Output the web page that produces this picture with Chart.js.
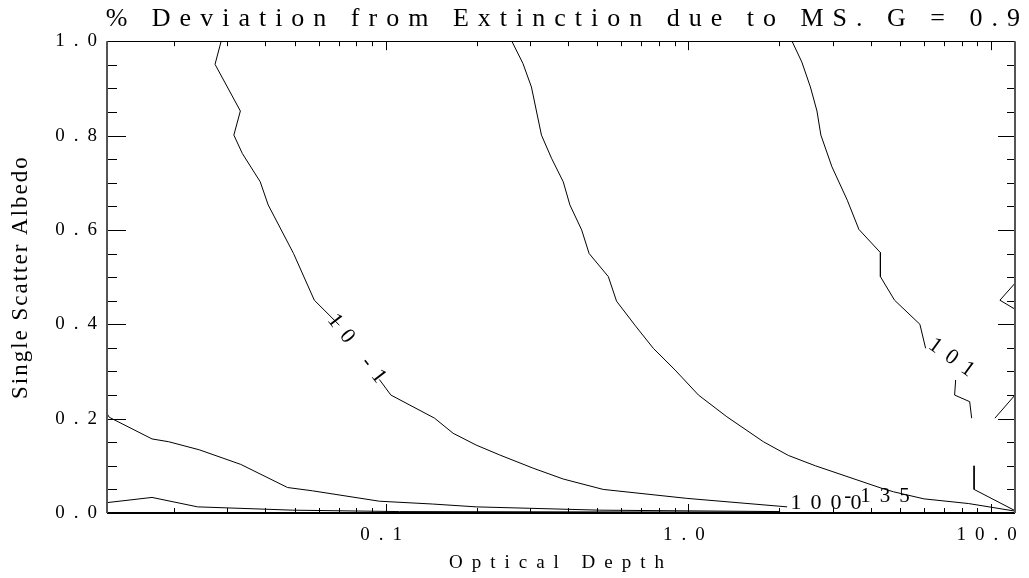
<!DOCTYPE html>
<html>
<head>
<meta charset="utf-8">
<title>% Deviation from Extinction due to MS</title>
<script src="https://cdn.jsdelivr.net/npm/chart.js@4.4.1/dist/chart.umd.min.js"></script>
<style>
  html, body { margin: 0; padding: 0; background: #fff; }
  #wrap { width: 1029px; height: 578px; }
</style>
</head>
<body>
<div id="wrap"><canvas id="contour"></canvas></div>
<script>
// axis ticks
const X_TICK_VALUES = [0.1, 1, 10];
const X_TICK_LABELS = ['0.1', '1.0', '10.0'];
const X_MINOR_TICKS = [0.02, 0.03, 0.04, 0.05, 0.06, 0.07, 0.08, 0.09,
                       0.2, 0.3, 0.4, 0.5, 0.6, 0.7, 0.8, 0.9,
                       2, 3, 4, 5, 6, 7, 8, 9];
const Y_TICK_VALUES = [0, 0.2, 0.4, 0.6, 0.8, 1.0];
const Y_MINOR_TICKS = [0.05, 0.1, 0.15, 0.25, 0.3, 0.35, 0.45, 0.5, 0.55,
                       0.65, 0.7, 0.75, 0.85, 0.9, 0.95];

// contour paths: optical depth (tau) vs single scatter albedo, null = break in the line
const contourA_tau = [0.0286, 0.0273, 0.0331, 0.0315, 0.0336, 0.0385, 0.0409, 0.0496, 0.0581, 0.0703, null,
                      0.0953, 0.104, 0.145, 0.167, 0.199, 0.238, 0.307, 0.386, 0.523, 0.988, 2.12];
const contourA_alb = [1.0, 0.951, 0.852, 0.801, 0.762, 0.702, 0.653, 0.550, 0.451, 0.398, null,
                      0.283, 0.250, 0.201, 0.169, 0.144, 0.123, 0.095, 0.072, 0.050, 0.031, 0.013];

const contourB_tau = [0.261, 0.284, 0.303, 0.327, 0.353, 0.386, 0.406, 0.444, 0.470, 0.544, 0.579, 0.666,
                      0.766, 0.904, 1.08, 1.34, 1.77, 2.14, 2.63, 4.37, 4.76, 6.00, 8.44, 12.0];
const contourB_alb = [1.0, 0.953, 0.903, 0.801, 0.752, 0.702, 0.653, 0.600, 0.550, 0.501, 0.449, 0.398,
                      0.349, 0.303, 0.250, 0.204, 0.151, 0.122, 0.100, 0.052, 0.045, 0.030, 0.020, 0.004];

const contourC_tau = [2.20, 2.37, 2.53, 2.66, 2.74, 2.98, 3.35, 3.66, 4.31, 4.31, 4.80, 5.82, 6.08, null,
                      7.64, 7.58, 8.50, 8.63, null, 8.79, 8.79, 12.0];
const contourC_alb = [1.0, 0.956, 0.903, 0.852, 0.801, 0.734, 0.663, 0.601, 0.552, 0.501, 0.451, 0.400, 0.349, null,
                      0.282, 0.250, 0.236, 0.201, null, 0.100, 0.050, 0.005];

const edge_tau = [12.0, 10.7, 12.0, null, 12.0, 10.3];
const edge_alb = [0.487, 0.451, 0.432, null, 0.250, 0.201];

const contourD_tau = [0.012, 0.0122, 0.0169, 0.0192, 0.0242, 0.0332, 0.0474, 0.0573, 0.0953, 0.143, 0.199, 0.299, 0.510, 2.01];
const contourD_alb = [0.211, 0.203, 0.157, 0.151, 0.134, 0.103, 0.054, 0.047, 0.025, 0.019, 0.013, 0.010, 0.006, 0.003];

const contourE_tau = [0.012, 0.0169, 0.0239, 0.0402, 0.0491, 0.111, 2.0];
const contourE_alb = [0.022, 0.033, 0.013, 0.008, 0.006, 0.003, 0.0017];

// contour level labels
const labelText = ['10 -1', '101', '1000', '-135'];
const labelTau = [0.0818, 7.6, 2.95, 4.35];
const labelAlb = [0.341, 0.324, 0.020, 0.034];

const FONT = 'Liberation Serif';
const SPACING = '9px';

function toPoints(tau, alb) {
    return tau.map((t, i) => ({ x: t, y: alb[i] }));
}

const contours = [
    [contourA_tau, contourA_alb],
    [contourB_tau, contourB_alb],
    [contourC_tau, contourC_alb],
    [edge_tau, edge_alb],
    [contourD_tau, contourD_alb],
    [contourE_tau, contourE_alb]
];

// wide Hershey-like spacing for all chart text
const letterSpacing = {
    id: 'letterSpacing',
    beforeUpdate(chart) { chart.ctx.letterSpacing = SPACING; },
    beforeDraw(chart) { chart.ctx.letterSpacing = SPACING; }
};

// plot frame with inward ticks on all four sides
const frameTicks = {
    id: 'frameTicks',
    afterDraw(chart) {
        const { ctx, chartArea: a, scales: { x, y } } = chart;
        ctx.save();
        ctx.lineWidth = 1;
        ctx.strokeStyle = '#000';
        ctx.beginPath();
        const xTick = (v, len) => {
            const px = Math.round(x.getPixelForValue(v)) + 0.5;
            ctx.moveTo(px, a.bottom); ctx.lineTo(px, a.bottom - len);
            ctx.moveTo(px, a.top); ctx.lineTo(px, a.top + len);
        };
        const yTick = (v, lenL, lenR) => {
            const py = Math.round(y.getPixelForValue(v)) + 0.5;
            ctx.moveTo(a.left, py); ctx.lineTo(a.left + lenL, py);
            ctx.moveTo(a.right, py); ctx.lineTo(a.right - lenR, py);
        };
        X_TICK_VALUES.forEach(v => xTick(v, 9));
        X_MINOR_TICKS.forEach(v => xTick(v, 5));
        Y_TICK_VALUES.forEach(v => yTick(v, 19, 17));
        Y_MINOR_TICKS.forEach(v => yTick(v, 10, 8));
        ctx.stroke();

        // top
        ctx.beginPath();
        ctx.moveTo(a.left, Math.round(a.top) + 0.5);
        ctx.lineTo(a.right, Math.round(a.top) + 0.5);
        ctx.stroke();
        // bottom
        ctx.lineWidth = 2;
        ctx.beginPath();
        ctx.moveTo(a.left, Math.round(a.bottom));
        ctx.lineTo(a.right, Math.round(a.bottom));
        ctx.stroke();
        // left and right
        ctx.strokeStyle = '#555';
        ctx.beginPath();
        ctx.moveTo(Math.round(a.left), a.top);
        ctx.lineTo(Math.round(a.left), a.bottom);
        ctx.moveTo(Math.round(a.right), a.top);
        ctx.lineTo(Math.round(a.right), a.bottom);
        ctx.stroke();
        ctx.restore();
    }
};

// contour level labels and the rotated y axis title
const annotations = {
    id: 'annotations',
    afterDraw(chart) {
        const { ctx, scales: { x, y } } = chart;
        const angles = [52, 36, 0, 0];
        const sizes = [22, 22, 22, 21];
        ctx.save();
        ctx.fillStyle = '#000';
        ctx.textAlign = 'center';
        ctx.textBaseline = 'middle';
        ctx.letterSpacing = SPACING;
        labelText.forEach((t, i) => {
            ctx.save();
            ctx.translate(x.getPixelForValue(labelTau[i]), y.getPixelForValue(labelAlb[i]));
            ctx.rotate(angles[i] * Math.PI / 180);
            ctx.font = sizes[i] + 'px "' + FONT + '"';
            ctx.fillText(t, 0, 0);
            ctx.restore();
        });

        ctx.letterSpacing = '2px';
        ctx.font = '23px "' + FONT + '"';
        ctx.translate(21, (chart.chartArea.top + chart.chartArea.bottom) / 2);
        ctx.rotate(-Math.PI / 2);
        ctx.fillText('Single Scatter Albedo', 0, 0);
        ctx.restore();
    }
};

const ctx = document.getElementById('contour').getContext('2d');

new Chart(ctx, {
    type: 'line',
    data: {
        datasets: contours.map(([tau, alb]) => ({
            data: toPoints(tau, alb),
            borderColor: '#000',
            borderWidth: 1,
            pointRadius: 0,
            fill: false,
            tension: 0,
            spanGaps: false
        }))
    },
    options: {
        responsive: true,
        maintainAspectRatio: false,
        devicePixelRatio: 1,
        animation: false,
        layout: { padding: 0 },
        plugins: {
            legend: { display: false },
            tooltip: { enabled: false },
            title: {
                display: true,
                text: '% Deviation from Extinction due to MS. G = 0.9',
                align: 'end',
                color: '#000',
                font: { family: FONT, size: 26, weight: 'normal', lineHeight: 1.2 },
                padding: { top: 4, bottom: 6 }
            }
        },
        scales: {
            x: {
                type: 'logarithmic',
                min: 0.012,
                max: 12,
                afterBuildTicks: s => { s.ticks = X_TICK_VALUES.map(v => ({ value: v })); },
                afterFit: s => { s.height = 65; s.paddingLeft = 0; s.paddingRight = 0; },
                grid: { display: false, drawTicks: false },
                border: { display: false },
                ticks: {
                    autoSkip: false,
                    maxRotation: 0,
                    color: '#000',
                    padding: 11,
                    font: { family: FONT, size: 19 },
                    callback: v => X_TICK_LABELS[X_TICK_VALUES.indexOf(v)]
                },
                title: {
                    display: true,
                    text: 'Optical Depth',
                    color: '#000',
                    font: { family: FONT, size: 19, lineHeight: 1.2 },
                    padding: { top: 0, bottom: 4 }
                }
            },
            y: {
                min: 0,
                max: 1,
                afterFit: s => { s.width = 107; },
                grid: { display: false, drawTicks: false },
                border: { display: false },
                ticks: {
                    stepSize: 0.2,
                    color: '#000',
                    padding: 1,
                    font: { family: FONT, size: 19 },
                    callback: v => v.toFixed(1)
                }
            },
            yRight: {
                position: 'right',
                min: 0,
                max: 1,
                afterFit: s => { s.width = 14; },
                grid: { display: false, drawTicks: false },
                border: { display: false },
                ticks: { display: false }
            }
        }
    },
    plugins: [letterSpacing, frameTicks, annotations]
});
</script>
</body>
</html>
